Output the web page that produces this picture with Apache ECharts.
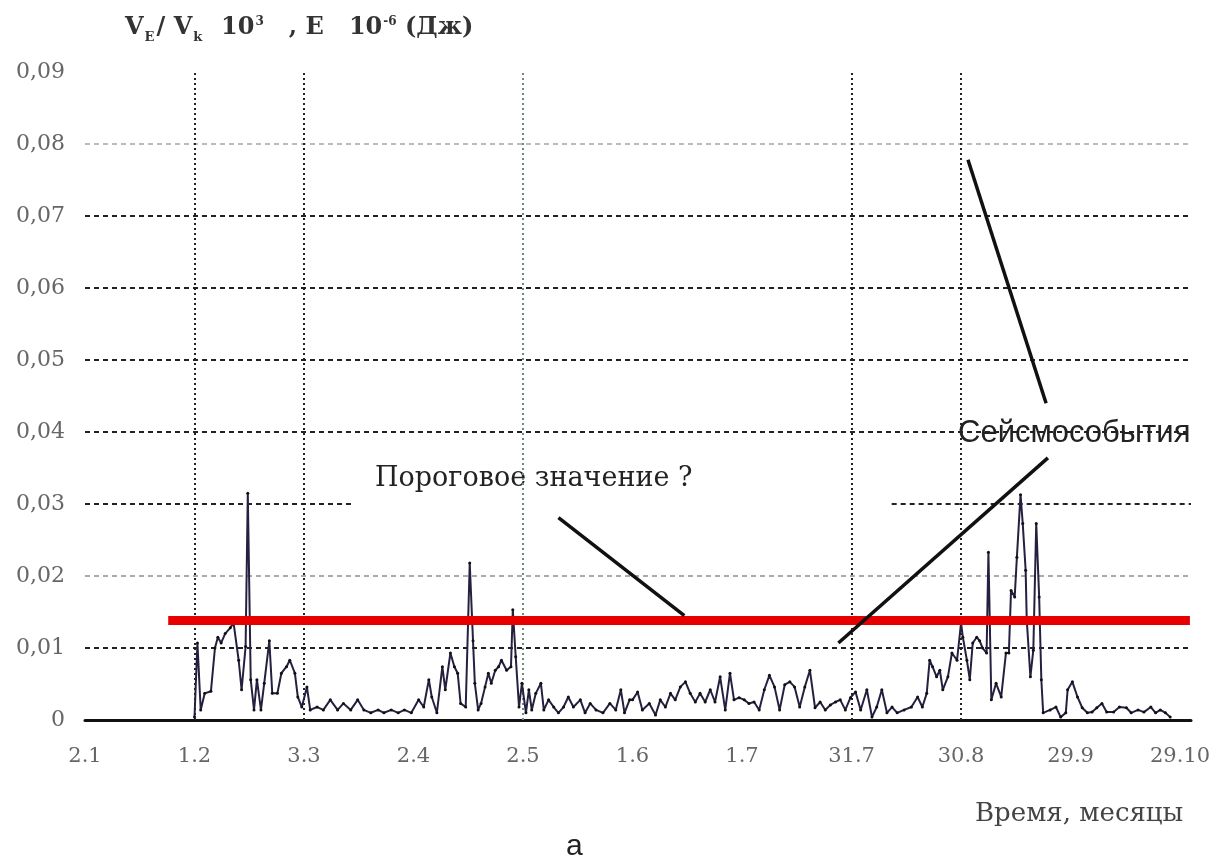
<!DOCTYPE html>
<html><head><meta charset="utf-8">
<script src="https://cdn.jsdelivr.net/npm/echarts@6/dist/echarts.min.js"></script>
<style>html,body{margin:0;padding:0;background:#fff}#c{width:1216px;height:863px}</style>
</head><body><div id="c"></div>
<script>
// x: days since 2 Jan (ticks every 30 days)
const tickLabels = ['2.1','1.2','3.3','2.4','2.5','1.6','1.7','31.7','30.8','29.9','29.10'];
const yLabels = ['0','0,01','0,02','0,03','0,04','0,05','0,06','0,07','0,08','0,09'];
const days = [
 30.0,30.8,31.7,32.8,34.5,35.6,36.4,37.3,38.4,39.8,40.7,42.1,42.9,44.0,44.6,45.4,46.3,47.1,48.2,49.1,50.5,51.3,52.7,53.8,55.2,56.1,57.5,58.3,59.4,
 60.8,61.7,63.6,65.3,67.2,69.2,70.8,72.8,74.7,76.4,78.3,80.3,81.9,83.9,85.8,87.5,89.4,
 91.4,92.8,94.2,95.0,96.4,97.9,98.7,100.1,101.2,102.1,102.9,104.3,105.4,106.3,106.8,107.7,108.5,109.6,110.5,111.3,112.4,113.3,114.1,115.5,116.7,117.2,118.0,118.9,119.7,
 120.8,121.6,122.4,123.5,124.9,125.7,127.0,128.4,129.7,131.1,132.4,133.8,135.7,137.0,138.4,140.0,141.9,143.8,145.4,146.8,147.8,149.2,
 150.0,151.4,152.7,154.6,156.3,157.6,159.0,160.4,161.7,163.1,164.5,165.8,167.2,168.5,169.9,171.3,172.6,174.0,175.4,176.7,177.8,179.2,
 180.6,181.9,183.3,184.7,186.1,187.5,188.9,190.3,191.7,193.1,194.4,195.8,197.2,198.6,200.0,201.4,202.8,204.2,205.6,206.9,208.3,209.7,
 211.1,212.5,214.2,215.6,216.9,218.3,219.7,221.1,222.5,224.4,226.4,228.1,229.4,230.6,231.4,232.2,233.3,234.2,235.0,236.4,237.5,238.9,
 240.0,240.5,241.6,242.4,243.2,244.3,245.1,245.9,247.0,247.5,248.3,249.6,251.0,252.3,253.1,253.7,254.7,255.3,256.3,256.9,257.7,258.0,259.0,259.8,260.6,261.4,262.0,262.5,264.4,266.0,267.3,268.7,
 269.2,270.5,271.9,273.2,274.6,275.9,277.2,278.6,279.9,281.8,283.4,285.3,286.6,288.5,290.1,292.0,293.3,294.6,296.0,297.3
];
const values = [
 0.0004,0.0107,0.0014,0.0037,0.0040,0.0100,0.0115,0.0107,0.0120,0.0128,0.0135,0.0083,0.0042,0.0102,0.0315,0.0056,0.0014,0.0056,0.0014,0.0051,0.0110,0.0037,0.0037,0.0065,0.0074,0.0083,0.0065,0.0032,0.0018,
 0.0046,0.0014,0.0018,0.0014,0.0028,0.0014,0.0023,0.0014,0.0028,0.0014,0.0010,0.0014,0.0010,0.0014,0.0010,0.0014,0.0010,
 0.0028,0.0018,0.0056,0.0032,0.0010,0.0074,0.0042,0.0093,0.0074,0.0065,0.0023,0.0018,0.0218,0.0110,0.0051,0.0014,0.0023,0.0046,0.0065,0.0051,0.0069,0.0074,0.0083,0.0069,0.0074,0.0153,0.0088,0.0018,0.0051,
 0.0010,0.0042,0.0014,0.0037,0.0051,0.0014,0.0028,0.0018,0.0010,0.0018,0.0032,0.0018,0.0028,0.0010,0.0023,0.0014,0.0010,0.0023,0.0014,0.0042,0.0010,0.0028,
 0.0028,0.0039,0.0014,0.0023,0.0007,0.0028,0.0018,0.0037,0.0028,0.0046,0.0053,0.0037,0.0025,0.0037,0.0025,0.0042,0.0025,0.0060,0.0014,0.0065,0.0028,0.0031,
 0.0028,0.0023,0.0025,0.0014,0.0042,0.0062,0.0046,0.0014,0.0049,0.0053,0.0046,0.0018,0.0046,0.0069,0.0017,0.0025,0.0014,0.0021,0.0025,0.0028,0.0014,0.0031,
 0.0039,0.0014,0.0042,0.0004,0.0018,0.0042,0.0010,0.0018,0.0010,0.0014,0.0018,0.0032,0.0018,0.0037,0.0083,0.0074,0.0060,0.0069,0.0042,0.0060,0.0093,0.0083,
 0.0135,0.0115,0.0083,0.0056,0.0107,0.0115,0.0110,0.0100,0.0093,0.0233,0.0028,0.0051,0.0032,0.0093,0.0093,0.0180,0.0171,0.0226,0.0313,0.0273,0.0208,0.0139,0.0060,0.0097,0.0273,0.0171,0.0056,0.0010,0.0014,0.0018,0.0004,0.0010,
 0.0042,0.0053,0.0032,0.0017,0.0010,0.0011,0.0017,0.0023,0.0011,0.0011,0.0018,0.0017,0.0010,0.0014,0.0011,0.0018,0.0010,0.0014,0.0010,0.0004
];
const thresholdValue = 0.0139;
const vLineDays = [30, 60, 210, 240];
const vLineLightDays = [120];
// the 0,03 grid line is broken in the original: [startDay, endDay] pieces
const partialGrid = { value: 0.03, pieces: [[0, 73], [221, 303]] };
// annotation pointer lines [[day, value],[day, value]]
const pointerLines = [
  [[129.7, 0.0281], [164.2, 0.0145]],
  [[241.9, 0.0778], [263.3, 0.0440]],
  [[263.8, 0.0364], [206.4, 0.0107]]
];

const chart = echarts.init(document.getElementById('c'));
const serif = '"DejaVu Serif", "Liberation Serif", serif';
const sans = '"Liberation Sans", Arial, sans-serif';
const seriesData = days.map((d, i) => [d, values[i]]);
const gridStyle = { type: [5, 4], width: 2, color: '#222' };

chart.setOption({
  animation: false,
  backgroundColor: '#fff',
  grid: { left: 85, right: 25, top: 72, bottom: 143 },
  xAxis: {
    type: 'value', min: 0, max: 303, interval: 30,
    axisLine: { show: true, lineStyle: { color: '#111', width: 3 } },
    axisTick: { show: false },
    splitLine: { show: false },
    axisLabel: {
      margin: 26, color: '#666', fontFamily: serif, fontSize: 21,
      formatter: v => { const i = v / 30; return Number.isInteger(i) ? (tickLabels[i] || '') : ''; }
    }
  },
  yAxis: {
    type: 'value', min: 0, max: 0.09, interval: 0.01,
    axisLine: { show: false }, axisTick: { show: false },
    axisLabel: {
      margin: 20, color: '#666', fontFamily: serif, fontSize: 22,
      formatter: v => yLabels[Math.round(v * 100)] || ''
    },
    splitLine: { show: true, lineStyle: { type: [5, 4], width: 2,
      color: ['#111', '#222', '#aaa', 'rgba(0,0,0,0)', '#222', '#222', '#222', '#222', '#bbb', 'rgba(0,0,0,0)'] } }
  },
  series: [
    {
      type: 'line', data: seriesData, z: 3,
      symbol: 'circle', symbolSize: 3, showSymbol: true,
      lineStyle: { color: '#262040', width: 2 },
      itemStyle: { color: '#111' },
      markLine: {
        silent: true, symbol: 'none', label: { show: false }, z: 1,
        data: vLineDays.map(d => ({ xAxis: d, lineStyle: { color: '#222', type: [2, 3], width: 2 } }))
          .concat(vLineLightDays.map(d => ({ xAxis: d, lineStyle: { color: '#6f8c78', type: [2, 3], width: 2 } })))
          .concat(partialGrid.pieces.map(p => [
            { coord: [p[0], partialGrid.value], lineStyle: gridStyle }, { coord: [p[1], partialGrid.value] }
          ]))
      }
    },
    {
      type: 'line', data: [], z: 5, symbol: 'none',
      markLine: {
        silent: true, symbol: 'none', label: { show: false }, animation: false,
        data: [
          [{ coord: [22.8, thresholdValue], lineStyle: { color: '#e60000', width: 9, type: 'solid' } }, { coord: [302.7, thresholdValue] }]
        ].concat(pointerLines.map(p => [
          { coord: p[0], lineStyle: { color: '#111', width: 3.5, type: 'solid' } }, { coord: p[1] }
        ]))
      }
    }
  ],
  graphic: [
    { type: 'text', left: 125, top: 12, style: {
      text: '{b|V}{s|E}{b|/ V}{s|k}{b|  10}{u|3}{b|   , E   10}{u|-6}{b| (Дж)}',
      rich: {
        b: { fontFamily: serif, fontWeight: 'bold', fontSize: 24, fill: '#333', lineHeight: 32, verticalAlign: 'middle' },
        s: { fontFamily: serif, fontWeight: 'bold', fontSize: 13, fill: '#333', lineHeight: 32, verticalAlign: 'bottom', padding: [12, 2, 0, 1] },
        u: { fontFamily: serif, fontWeight: 'bold', fontSize: 12, fill: '#333', lineHeight: 32, verticalAlign: 'top', padding: [4, 0, 0, 1] }
      }
    } },
    { type: 'text', left: 958, top: 418, style: { text: 'Сейсмособытия', fontFamily: sans, fontSize: 31, fill: '#222' } },
    { type: 'text', left: 375, top: 465, style: { text: 'Пороговое значение ?', fontFamily: serif, fontSize: 27, fill: '#222' } },
    { type: 'text', left: 975, top: 801, style: { text: 'Время, месяцы', fontFamily: serif, fontSize: 26, fill: '#444' } },
    { type: 'text', left: 566, top: 832, style: { text: 'а', fontFamily: sans, fontSize: 30, fill: '#222' } }
  ]
});
</script>
</body></html>
